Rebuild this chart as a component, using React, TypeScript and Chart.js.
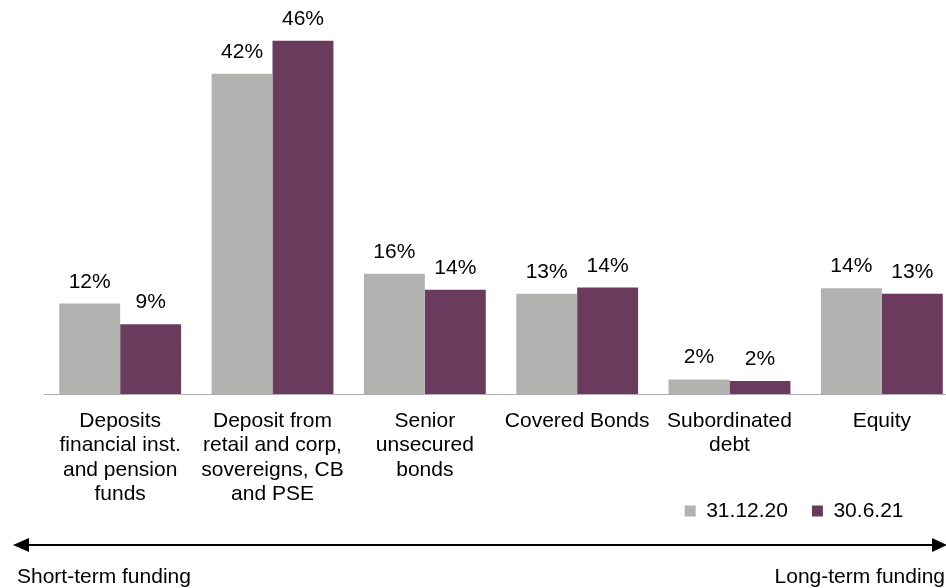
import React, { useEffect, useRef } from "react";
import { Chart, registerables } from "chart.js";

Chart.register(...registerables);

const categories: string[][] = [
  ["Deposits", "financial inst.", "and pension", "funds"],
  ["Deposit from", "retail and corp,", "sovereigns, CB", "and PSE"],
  ["Senior", "unsecured", "bonds"],
  ["Covered Bonds"],
  ["Subordinated", "debt"],
  ["Equity"],
];
const seriesNames = ["31.12.20", "30.6.21"];
const values2020 = [11.8, 41.8, 15.7, 13.1, 1.9, 13.8];
const values2021 = [9.1, 46.1, 13.6, 13.9, 1.7, 13.1];
const labels2020 = ["12%", "42%", "16%", "13%", "2%", "14%"];
const labels2021 = ["9%", "46%", "14%", "14%", "2%", "13%"];
const arrowLabels = ["Short-term funding", "Long-term funding"];

const GRAY = "#b2b3b1";
const PURPLE = "#6a3b5d";
const FONT = "'Liberation Sans', Arial, sans-serif";

export default function App() {
  const ref = useRef<HTMLCanvasElement | null>(null);

  useEffect(() => {
    const canvas = ref.current;
    if (!canvas) return;
    const valueLabels = [labels2020, labels2021];

    const extras = {
      id: "extras",
      afterLayout(chart: any) {
        const lg = chart.legend;
        if (lg) {
          const h = lg.height;
          lg.top = 476.5;
          lg.bottom = 476.5 + h;
          lg.right = 927.5;
        }
      },
      afterDatasetsDraw(chart: any) {
        const ctx = chart.ctx;
        ctx.save();
        ctx.font = `21px ${FONT}`;
        ctx.fillStyle = "#000";
        ctx.textAlign = "center";
        ctx.textBaseline = "alphabetic";
        chart.data.datasets.forEach((ds: any, di: number) => {
          const meta = chart.getDatasetMeta(di);
          meta.data.forEach((bar: any, i: number) => {
            ctx.fillText(valueLabels[di][i], bar.x, bar.y - 16);
          });
        });
        ctx.restore();
      },
      afterDraw(chart: any) {
        const ctx = chart.ctx;
        const y = 545;
        const xl = 13;
        const xr = 947;
        ctx.save();
        ctx.strokeStyle = "#000";
        ctx.fillStyle = "#000";
        ctx.lineWidth = 2;
        ctx.beginPath();
        ctx.moveTo(xl + 10, y);
        ctx.lineTo(xr - 10, y);
        ctx.stroke();
        ctx.beginPath();
        ctx.moveTo(xl, y);
        ctx.lineTo(xl + 16, y - 7);
        ctx.lineTo(xl + 16, y + 7);
        ctx.closePath();
        ctx.fill();
        ctx.beginPath();
        ctx.moveTo(xr, y);
        ctx.lineTo(xr - 15, y - 7);
        ctx.lineTo(xr - 15, y + 7);
        ctx.closePath();
        ctx.fill();
        ctx.font = `21px ${FONT}`;
        ctx.textBaseline = "alphabetic";
        ctx.textAlign = "left";
        ctx.fillText(arrowLabels[0], 17, 583);
        ctx.textAlign = "right";
        ctx.fillText(arrowLabels[1], 945, 583);
        ctx.restore();
      },
    };

    const chart = new Chart(canvas, {
      type: "bar",
      data: {
        labels: categories,
        datasets: [
          {
            label: seriesNames[0],
            data: values2020,
            backgroundColor: GRAY,
            borderWidth: 0,
            categoryPercentage: 0.8,
            barPercentage: 1.0,
          },
          {
            label: seriesNames[1],
            data: values2021,
            backgroundColor: PURPLE,
            borderWidth: 0,
            categoryPercentage: 0.8,
            barPercentage: 1.0,
          },
        ],
      },
      options: {
        responsive: false,
        animation: false,
        devicePixelRatio: 1,
        layout: { padding: { left: 44, right: 2, top: 11, bottom: 9 } },
        scales: {
          x: {
            grid: { display: false },
            border: { display: true, color: "#b5aab2", width: 1 },
            ticks: {
              color: "#000",
              font: { family: FONT, size: 21, lineHeight: 1.16 },
              padding: 7,
              maxRotation: 0,
              autoSkip: false,
            },
            afterFit: (scale: any) => {
              scale.height = 130;
            },
          },
          y: {
            display: false,
            min: 0,
            max: 50,
          },
        },
        plugins: {
          legend: {
            display: true,
            position: "bottom",
            align: "end",
            labels: {
              color: "#000",
              font: { family: FONT, size: 21 },
              boxWidth: 11,
              boxHeight: 11,
              padding: 24,
            },
          },
          tooltip: { enabled: false },
        },
      },
      plugins: [extras],
    });

    return () => {
      chart.destroy();
    };
  }, []);

  return (
    <div
      style={{
        position: "absolute",
        left: 0,
        top: 0,
        width: 946,
        height: 588,
        overflow: "hidden",
        background: "#fff",
      }}
    >
      <canvas ref={ref} width={960} height={588} style={{ display: "block" }} />
    </div>
  );
}
